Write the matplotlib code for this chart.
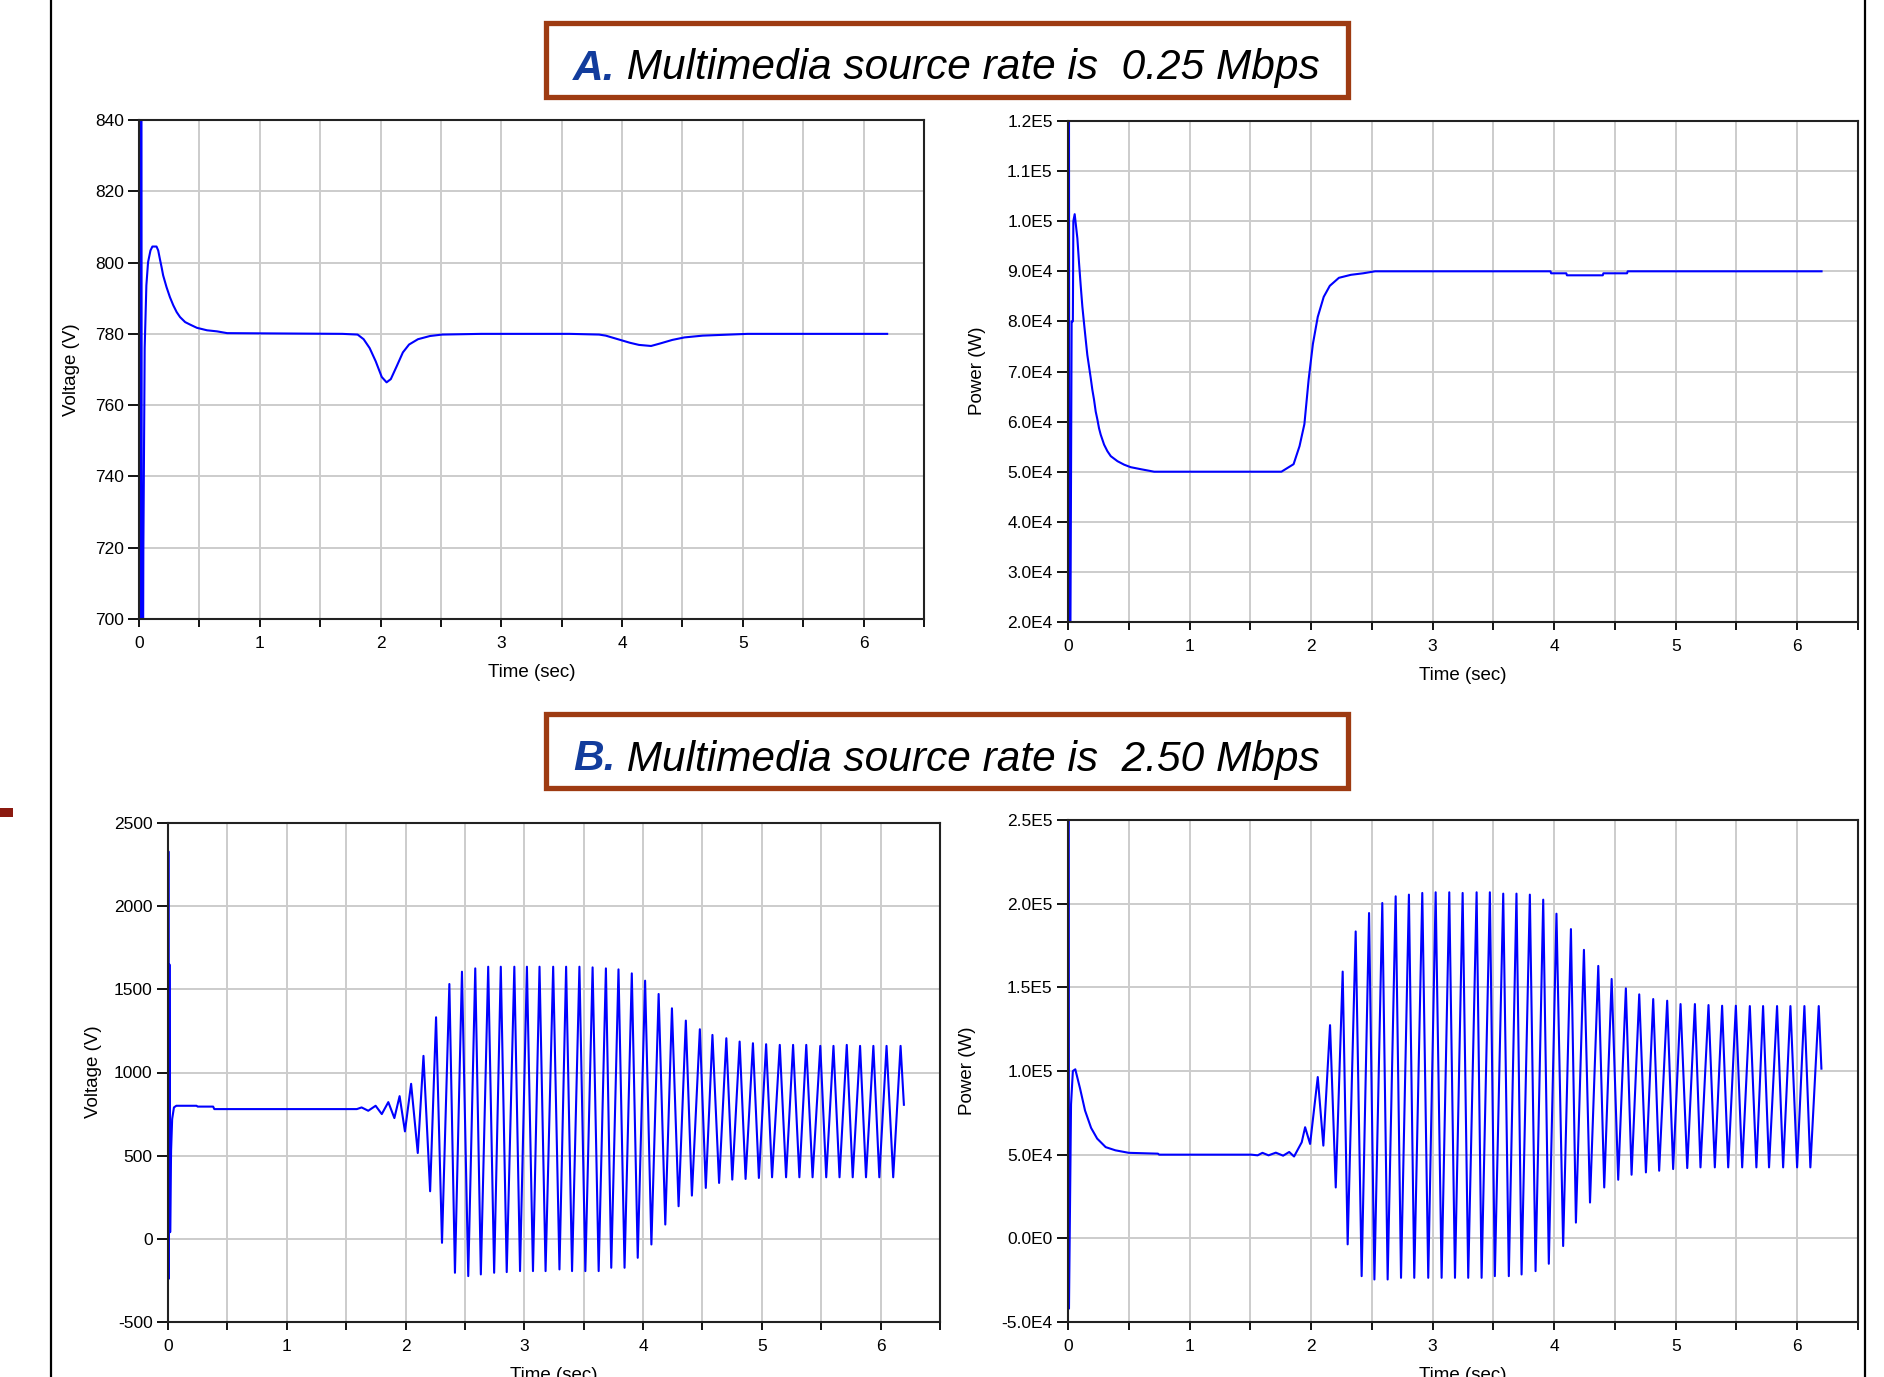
import numpy as np
import matplotlib
matplotlib.use("Agg")
import matplotlib.pyplot as plt
from matplotlib.patches import Rectangle
from matplotlib.lines import Line2D
from matplotlib.text import Annotation

plt.rcParams['font.family'] = ['Liberation Sans', 'DejaVu Sans']
plt.rcParams['axes.unicode_minus'] = False

# ---- data ----
# A. 0.25 Mbps - bus voltage
al_t = [0.000, 0.004, 0.010, 0.018, 0.026, 0.033, 0.036, 0.047, 0.061, 0.075, 0.095,
        0.111, 0.145, 0.159, 0.173, 0.187, 0.200, 0.228, 0.256, 0.284, 0.312, 0.340,
        0.382, 0.423, 0.479, 0.563, 0.646, 0.730, 1.684, 1.810, 1.860, 1.910, 1.960,
        2.010, 2.050, 2.085, 2.135, 2.185, 2.236, 2.310, 2.410, 2.510, 2.837, 3.564,
        3.810, 3.865, 3.965, 4.065, 4.140, 4.240, 4.315, 4.416, 4.516, 4.667, 5.040, 6.195]
al_v = [500, 1200, 300, 1000, 500, 680, 719, 776, 793.6, 800.1, 803.4,
        804.5, 804.5, 803.4, 801.0, 798.7, 796.4, 793.1, 790.3, 788.0, 786.1, 784.7,
        783.3, 782.6, 781.7, 781.0, 780.7, 780.2, 780.0, 779.8, 778.5, 776.0, 772.3,
        767.9, 766.4, 767.3, 771.0, 774.8, 777.0, 778.5, 779.4, 779.8, 780.0, 780.0,
        779.8, 779.5, 778.5, 777.5, 776.9, 776.6, 777.3, 778.3, 779.0, 779.5, 780.0, 780.0]

# A. 0.25 Mbps - power
ar_t = [0.000, 0.005, 0.012, 0.030, 0.040, 0.044, 0.055, 0.077, 0.091, 0.104, 0.118,
        0.132, 0.146, 0.159, 0.173, 0.187, 0.200, 0.214, 0.228, 0.242, 0.255, 0.269,
        0.297, 0.324, 0.352, 0.407, 0.462, 0.516, 0.599, 0.709, 1.756, 1.856, 1.905,
        1.945, 1.980, 2.015, 2.055, 2.104, 2.154, 2.229, 2.328, 2.428, 2.527, 3.970,
        3.975, 4.100, 4.105, 4.400, 4.405, 4.600, 4.605, 6.200]
ar_p = [0, 250000, -30000, 80000, 80000, 100000, 101400, 96600, 91600, 87300, 83000,
        79600, 76300, 73300, 71000, 68700, 66400, 64400, 62000, 60400, 58700, 57400,
        55400, 54100, 53100, 52100, 51400, 50900, 50500, 50000, 50000, 51500, 55100,
        59500, 68400, 75500, 80900, 84900, 87100, 88700, 89300, 89600, 90000, 90000,
        89600, 89600, 89200, 89200, 89600, 89600, 90000, 90000]

# B. 2.50 Mbps - bus voltage (transient, then oscillation peaks / troughs)
bl_t = [0.000, 0.003, 0.007, 0.012, 0.018, 0.026, 0.035, 0.050, 0.070, 0.100, 0.240,
        0.250, 0.380, 0.390, 1.590, 1.630, 1.686, 1.748, 1.800, 1.855, 1.906, 1.950,
        1.995, 2.047, 2.103, 2.151, 2.207, 2.257, 2.307, 2.369, 2.416, 2.475, 2.528,
        2.587, 2.634, 2.696, 2.746, 2.802, 2.852, 2.916, 2.964, 3.022, 3.073, 3.128,
        3.179, 3.243, 3.296, 3.352, 3.402, 3.464, 3.514, 3.575, 3.626, 3.687, 3.732,
        3.793, 3.844, 3.905, 3.955, 4.017, 4.070, 4.131, 4.187, 4.243, 4.299, 4.360,
        4.411, 4.478, 4.528, 4.584, 4.640, 4.701, 4.751, 4.813, 4.863, 4.925, 4.975,
        5.036, 5.086, 5.151, 5.204, 5.263, 5.316, 5.374, 5.427, 5.492, 5.542, 5.603,
        5.654, 5.715, 5.765, 5.827, 5.877, 5.939, 5.989, 6.050, 6.106, 6.168, 6.196]
bl_v = [300, 2330, -240, 1650, 40, 530, 720, 790, 800, 800, 800,
        795, 795, 780, 780, 790, 770, 800, 750, 822, 726, 858,
        646, 932, 516, 1100, 286, 1332, -24, 1532, -204, 1606, -224,
        1626, -214, 1636, -204, 1636, -200, 1636, -194, 1636, -194, 1636,
        -194, 1636, -184, 1636, -194, 1636, -194, 1632, -194, 1626, -174,
        1620, -174, 1596, -114, 1552, -34, 1472, 86, 1386, 196, 1312,
        260, 1260, 306, 1226, 336, 1206, 356, 1186, 360, 1176, 366,
        1170, 370, 1166, 370, 1166, 370, 1166, 370, 1160, 370, 1160,
        370, 1166, 370, 1160, 370, 1160, 370, 1160, 370, 1160, 806]

# B. 2.50 Mbps - power
br_t = [0.000, 0.003, 0.008, 0.015, 0.025, 0.040, 0.060, 0.100, 0.140, 0.190, 0.240,
        0.310, 0.390, 0.500, 0.740, 0.750, 1.510, 1.560, 1.600, 1.650, 1.710, 1.770,
        1.820, 1.860, 1.923, 1.951, 1.992, 2.055, 2.101, 2.156, 2.203, 2.260, 2.301,
        2.367, 2.416, 2.477, 2.521, 2.586, 2.630, 2.696, 2.740, 2.805, 2.849, 2.915,
        2.964, 3.025, 3.074, 3.137, 3.184, 3.247, 3.293, 3.362, 3.403, 3.471, 3.512,
        3.581, 3.627, 3.690, 3.732, 3.800, 3.847, 3.910, 3.956, 4.019, 4.074, 4.138,
        4.179, 4.245, 4.295, 4.363, 4.412, 4.473, 4.527, 4.590, 4.637, 4.700, 4.755,
        4.815, 4.864, 4.930, 4.979, 5.040, 5.095, 5.158, 5.204, 5.270, 5.322, 5.382,
        5.432, 5.495, 5.547, 5.610, 5.664, 5.719, 5.768, 5.834, 5.884, 5.944, 5.999,
        6.059, 6.108, 6.177, 6.199]
br_p = [0, 300000, -42000, 8000, 80000, 100000, 101000, 89300, 76400, 66000, 59600,
        54500, 52600, 51100, 50600, 50000, 50000, 49600, 51100, 49600, 51200, 49400,
        51600, 48900, 57400, 66400, 56400, 96400, 55400, 127400, 30400, 159400, -3600,
        183400, -22600, 194400, -24600, 200400, -24600, 204400, -23600, 205400, -23600, 206400,
        -23600, 206800, -23600, 206800, -23600, 206400, -23600, 206800, -23600, 206800, -22600,
        206000, -22600, 206000, -21600, 205400, -19600, 202400, -15200, 194000, -4600, 184800,
        9400, 172400, 21400, 162800, 30400, 155000, 35000, 149400, 38000, 145800, 39400,
        143000, 40400, 142000, 41400, 140000, 42000, 140000, 42400, 139400, 42400, 139000,
        42400, 139000, 42400, 138800, 42400, 138800, 42400, 138800, 42400, 138800, 42400,
        138800, 42400, 138800, 101400]

x_major = [0, 1, 2, 3, 4, 5, 6]
x_minor = [0.5, 1.5, 2.5, 3.5, 4.5, 5.5, 6.5]

al_yticks = [700, 720, 740, 760, 780, 800, 820, 840]
ar_yticks = [20000, 30000, 40000, 50000, 60000, 70000, 80000, 90000, 100000, 110000, 120000]
ar_ylabels = ["2.0E4", "3.0E4", "4.0E4", "5.0E4", "6.0E4", "7.0E4", "8.0E4", "9.0E4",
              "1.0E5", "1.1E5", "1.2E5"]
bl_yticks = [-500, 0, 500, 1000, 1500, 2000, 2500]
br_yticks = [-50000, 0, 50000, 100000, 150000, 200000, 250000]
br_ylabels = ["-5.0E4", "0.0E0", "5.0E4", "1.0E5", "1.5E5", "2.0E5", "2.5E5"]

titles = [("A.", " Multimedia source rate is  0.25 Mbps"),
          ("B.", " Multimedia source rate is  2.50 Mbps")]

# ---- figure ----
W, H = 1884, 1377
fig = plt.figure(figsize=(W / 100, H / 100), dpi=100)
fig.patch.set_facecolor("white")


def px_rect(l, t, r, b):
    return [l / W, 1 - b / H, (r - l) / W, (b - t) / H]


def fx(x):
    return x / W


def fy(y):
    return 1 - y / H


def style_axes(ax, yticks, ylabels=None):
    ax.set_xlim(0, 6.5)
    ax.set_ylim(yticks[0], yticks[-1])
    ax.set_xticks(x_major)
    ax.set_xticks(x_minor, minor=True)
    ax.set_yticks(yticks)
    if ylabels is not None:
        ax.set_yticklabels(ylabels)
    ax.grid(True, which="both", color="#cccccc", lw=1.4)
    ax.set_axisbelow(True)
    for s in ax.spines.values():
        s.set_linewidth(1.5)
        s.set_color("#222222")
    ax.tick_params(axis="x", which="both", direction="out", length=6, width=1.3,
                   labelsize=12.5, pad=6.5, top=False)
    ax.tick_params(axis="y", direction="out", length=8, width=1.3, labelsize=12.5,
                   pad=3, right=False)
    ax.set_xlabel("Time (sec)", fontsize=13.5, labelpad=9)


panels = [
    (px_rect(139, 120, 924, 619), al_t, al_v, al_yticks, None, "Voltage (V)", 71, 370),
    (px_rect(1068, 121, 1858, 622), ar_t, ar_p, ar_yticks, ar_ylabels, "Power (W)", 978, 371),
    (px_rect(168, 823, 940, 1322), bl_t, bl_v, bl_yticks, None, "Voltage (V)", 93, 1072),
    (px_rect(1068, 820, 1858, 1322), br_t, br_p, br_yticks, br_ylabels, "Power (W)", 967, 1071),
]

for rect, t, v, yt, yl, lab, lx, ly in panels:
    ax = fig.add_axes(rect)
    ax.plot(t, v, color="#0000ff", lw=1.5)
    style_axes(ax, yt, yl)
    fig.text(fx(lx), fy(ly), lab, rotation=90, ha="center", va="center", fontsize=13.5)

# title boxes
for (top, bot), (letter, rest) in zip([(23, 97), (714, 788)], titles):
    fig.patches.append(Rectangle((fx(546), fy(bot)), fx(1348) - fx(546), fy(top) - fy(bot),
                                 transform=fig.transFigure, facecolor="none",
                                 edgecolor="#9e3b12", lw=3.8, zorder=1))
    base = bot - 17.5
    t1 = fig.text(fx(573), fy(base), letter, fontsize=30.5, style="italic",
                  weight="bold", color="#123c9c", va="baseline")
    fig.add_artist(Annotation(rest, xy=(1, 0), xycoords=t1, fontsize=30.5,
                              style="italic", color="black", va="bottom", ha="left",
                              annotation_clip=False))

# page edges
fig.add_artist(Line2D([fx(51), fx(51)], [0, 1], color="black", lw=1.6))
fig.add_artist(Line2D([fx(1865), fx(1865)], [0, 1], color="black", lw=1.6))
fig.patches.append(Rectangle((0, fy(817)), fx(13), fy(808) - fy(817),
                             transform=fig.transFigure, facecolor="#8b1a10",
                             edgecolor="none"))

fig.savefig("out.png", dpi=100)
